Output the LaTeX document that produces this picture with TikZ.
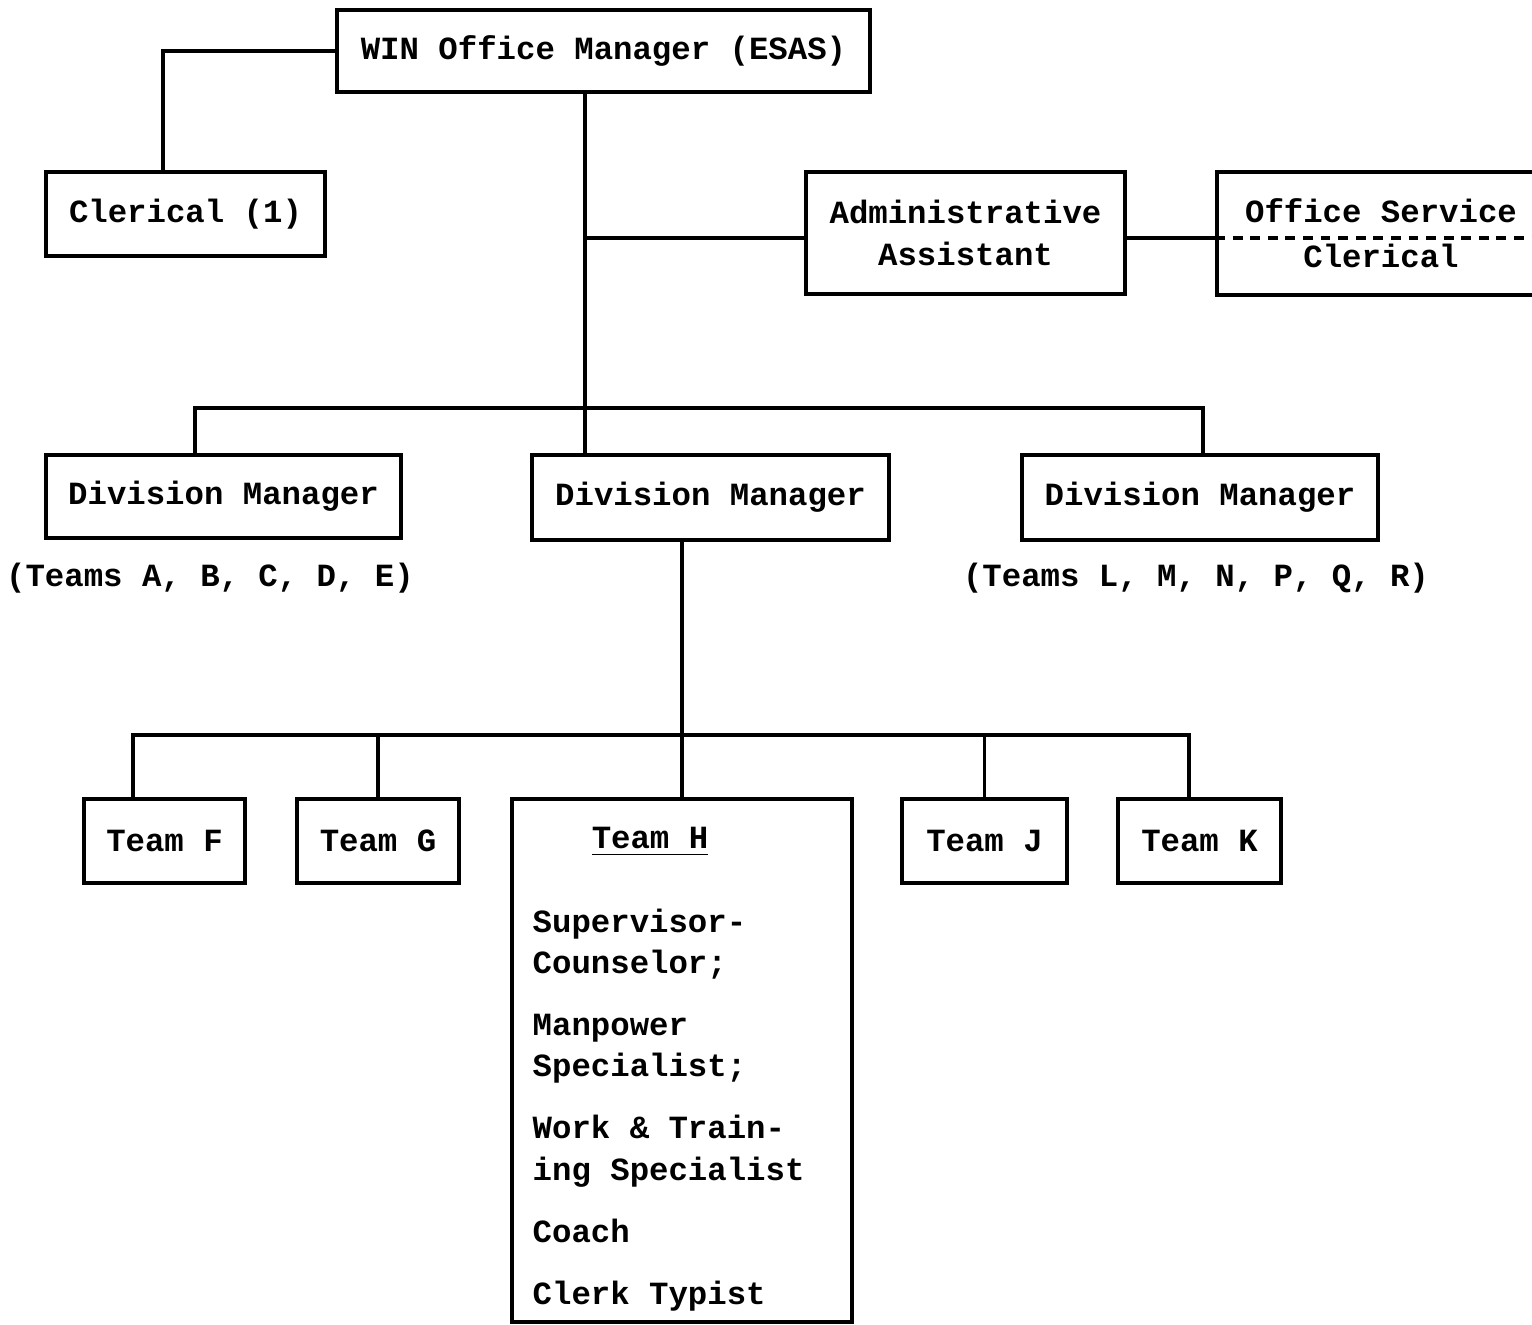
\documentclass[tikz,border=0pt]{standalone}
\usepackage{fontspec}
\setmainfont{Liberation Mono}
\begin{document}
\begin{tikzpicture}[x=0.01cm, y=-0.01cm,
    typed/.style={font=\fontsize{9.2}{11.7}\selectfont\bfseries, inner sep=0pt},
    box/.style={typed, draw, line width=1pt, align=center},
    link/.style={line width=1pt}]
  \useasboundingbox (0,0) rectangle (1532,1325);

  % Top of the office
  \node[box, minimum width=5.33cm, minimum height=0.82cm] (win) at (603.5,51) {WIN Office Manager (ESAS)};
  \node[box, minimum width=2.79cm, minimum height=0.84cm] (cler) at (185.5,214) {Clerical (1)};
  \node[box, minimum width=3.19cm, minimum height=1.22cm] (admin) at (965.5,233) {Administrative\\Assistant};
  \node[box, minimum width=3.28cm, minimum height=1.23cm] (osc) at (1381,233.5) {Office Service\\[1pt]Clerical};

  % Divisions
  \node[box, minimum width=3.55cm, minimum height=0.83cm] (dm1) at (223.5,496.5) {Division Manager};
  \node[box, minimum width=3.57cm, minimum height=0.85cm] (dm2) at (710.5,497.5) {Division Manager};
  \node[box, minimum width=3.56cm, minimum height=0.85cm] (dm3) at (1200,497.5) {Division Manager};
  \node[typed] (note1) at (210,578) {(Teams A, B, C, D, E)};
  \node[typed] (note3) at (1196,578) {(Teams L, M, N, P, Q, R)};

  % Teams
  \foreach \n/\x/\w/\t in {tf/164.5/1.61/F, tg/378/1.62/G, tj/984.5/1.65/J, tk/1199.5/1.63/K}
    \node[box, minimum width=\w cm, minimum height=0.84cm] (\n) at (\x,841) {Team \t};
  \node[box, minimum width=3.40cm, minimum height=5.23cm] (th) at (682,1060.5) {};
  \node[typed] (thname) at (650,842) {\underline{Team H}};
  \node[typed, anchor=north west, align=left] (thlist) at (532,908)
    {Supervisor-\\Counselor;\\[6pt]Manpower\\Specialist;\\[6pt]Work \& Train-\\ing Specialist\\[6pt]Coach\\[6pt]Clerk Typist};

  % Lines
  \coordinate (jadm) at (585,238);
  \coordinate (bar1) at (585,408);
  \coordinate (bar2) at (682,735);
  \draw[link] (win.west) -| ([xshift=-0.225cm]cler.north);
  \draw[link] (win.south -| jadm) -- (dm2.north -| jadm);
  \draw[link] (jadm) -- (jadm -| admin.west);
  \draw[link] (admin.east |- jadm) -- (osc.west |- jadm);
  \draw[link, dash pattern=on 2.8pt off 2.2pt] (osc.west |- jadm) -- (osc.east |- jadm);
  \draw[link] ([xshift=-0.285cm]dm1.north) |- (bar1) -| ([xshift=0.03cm]dm3.north);
  \draw[link] (dm2.south -| th.north) -- (th.north);
  \draw[link] ([xshift=-0.315cm]tf.north) |- (bar2) -| ([xshift=-0.105cm]tk.north);
  \draw[link] (tg.north) -- (tg.north |- bar2);
  \draw[link] (tj.north) -- (tj.north |- bar2);
\end{tikzpicture}
\end{document}
